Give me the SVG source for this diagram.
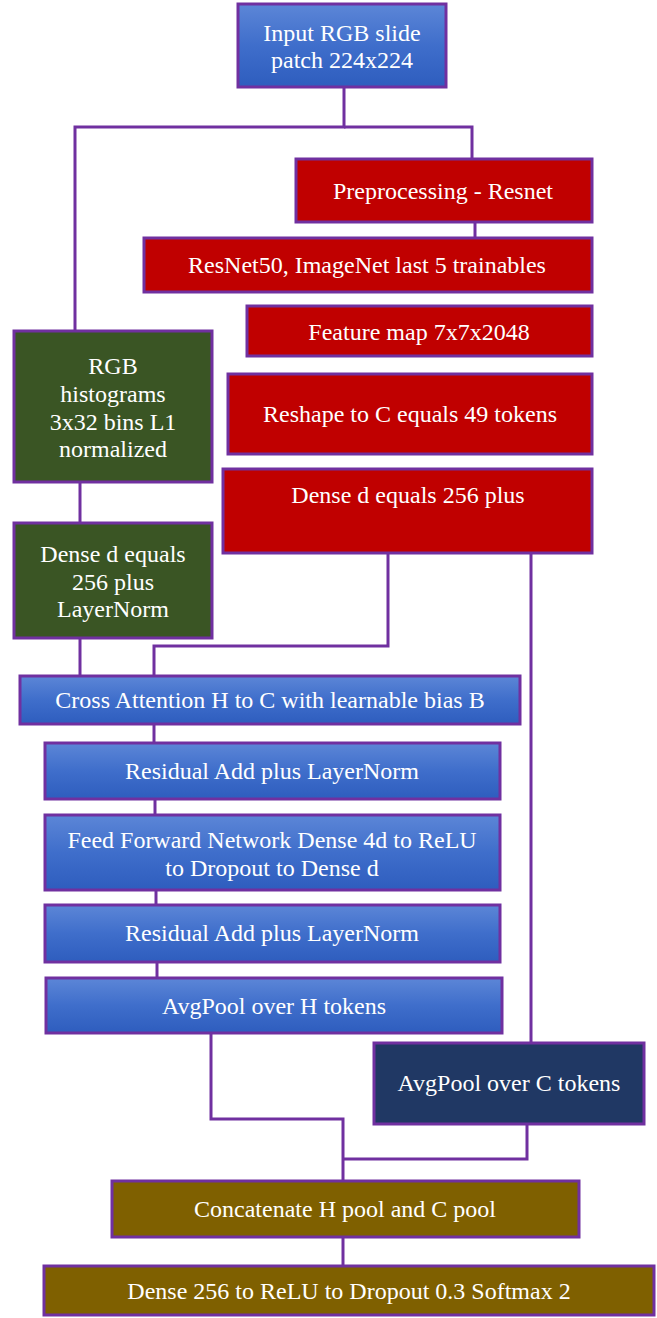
<svg xmlns="http://www.w3.org/2000/svg" width="657" height="1318" viewBox="0 0 657 1318">
<defs>
<linearGradient id="blue" x1="0" y1="0" x2="0" y2="1">
<stop offset="0" stop-color="#5C86D7"/>
<stop offset="0.5" stop-color="#3F6ECB"/>
<stop offset="1" stop-color="#2E5DBE"/>
</linearGradient>
</defs>
<style>
.box{stroke:#7030A0;stroke-width:3}
.blue{fill:url(#blue)}
.red{fill:#C00000}
.green{fill:#3A5524}
.navy{fill:#203864}
.olive{fill:#7F6000}
text{font-family:"Liberation Serif","Times New Roman",serif;font-size:24px;fill:#FFFFFF;text-anchor:middle}
.conn{fill:none;stroke:#7030A0;stroke-width:3}
</style>
<g id="connectors">
<polyline class="conn" points="344,87 344,127 75,127 75,330"/>
<polyline class="conn" points="344,127 472,127 472,158"/>
<line class="conn" x1="475" y1="222" x2="475" y2="237"/>
<line class="conn" x1="80" y1="482" x2="80" y2="522"/>
<line class="conn" x1="80" y1="638" x2="80" y2="675"/>
<polyline class="conn" points="388,553 388,646 154,646 154,675"/>
<line class="conn" x1="531" y1="553" x2="531" y2="1042"/>
<line class="conn" x1="154" y1="724" x2="154" y2="742"/>
<line class="conn" x1="155" y1="799" x2="155" y2="814"/>
<line class="conn" x1="156" y1="890" x2="156" y2="904"/>
<line class="conn" x1="157" y1="962" x2="157" y2="977"/>
<polyline class="conn" points="211,1033 211,1119 343,1119 343,1180"/>
<polyline class="conn" points="527,1124 527,1159 343,1159"/>
<line class="conn" x1="343" y1="1237" x2="343" y2="1265"/>
</g>
<g id="input">
<rect class="box blue" x="238" y="4" width="208" height="83"/>
<text x="342" y="41">Input RGB slide</text>
<text x="342" y="68">patch 224x224</text>
</g>
<g id="preprocessing">
<rect class="box red" x="296" y="159" width="296" height="63"/>
<text x="443" y="199">Preprocessing - Resnet</text>
</g>
<g id="resnet50">
<rect class="box red" x="144" y="238" width="448" height="54"/>
<text x="367" y="273">ResNet50, ImageNet last 5 trainables</text>
</g>
<g id="featuremap">
<rect class="box red" x="247" y="306" width="345" height="50"/>
<text x="419" y="340">Feature map 7x7x2048</text>
</g>
<g id="reshape">
<rect class="box red" x="228" y="374" width="364" height="80"/>
<text x="410" y="422">Reshape to C equals 49 tokens</text>
</g>
<g id="dense-red">
<rect class="box red" x="223" y="469" width="369" height="84"/>
<text x="408" y="503">Dense d equals 256 plus</text>
</g>
<g id="rgb-hist">
<rect class="box green" x="14" y="331" width="198" height="151"/>
<text x="113" y="374">RGB</text>
<text x="113" y="402">histograms</text>
<text x="113" y="430">3x32 bins L1</text>
<text x="113" y="457">normalized</text>
</g>
<g id="dense-green">
<rect class="box green" x="14" y="523" width="198" height="115"/>
<text x="113" y="562">Dense d equals</text>
<text x="113" y="590">256 plus</text>
<text x="113" y="617">LayerNorm</text>
</g>
<g id="cross-attention">
<rect class="box blue" x="20" y="676" width="500" height="48"/>
<text x="270" y="708">Cross Attention H to C with learnable bias B</text>
</g>
<g id="residual1">
<rect class="box blue" x="45" y="743" width="455" height="56"/>
<text x="272" y="779">Residual Add plus LayerNorm</text>
</g>
<g id="ffn">
<rect class="box blue" x="45" y="815" width="455" height="75"/>
<text x="272" y="848">Feed Forward Network Dense 4d to ReLU</text>
<text x="272" y="876">to Dropout to Dense d</text>
</g>
<g id="residual2">
<rect class="box blue" x="45" y="905" width="455" height="57"/>
<text x="272" y="941">Residual Add plus LayerNorm</text>
</g>
<g id="avgpool-h">
<rect class="box blue" x="46" y="978" width="456" height="55"/>
<text x="274" y="1014">AvgPool over H tokens</text>
</g>
<g id="avgpool-c">
<rect class="box navy" x="374" y="1043" width="270" height="81"/>
<text x="509" y="1091">AvgPool over C tokens</text>
</g>
<g id="concatenate">
<rect class="box olive" x="112" y="1181" width="467" height="56"/>
<text x="345" y="1217">Concatenate H pool and C pool</text>
</g>
<g id="dense-final">
<rect class="box olive" x="44" y="1266" width="610" height="49"/>
<text x="349" y="1299">Dense 256 to ReLU to Dropout 0.3 Softmax 2</text>
</g>
</svg>
